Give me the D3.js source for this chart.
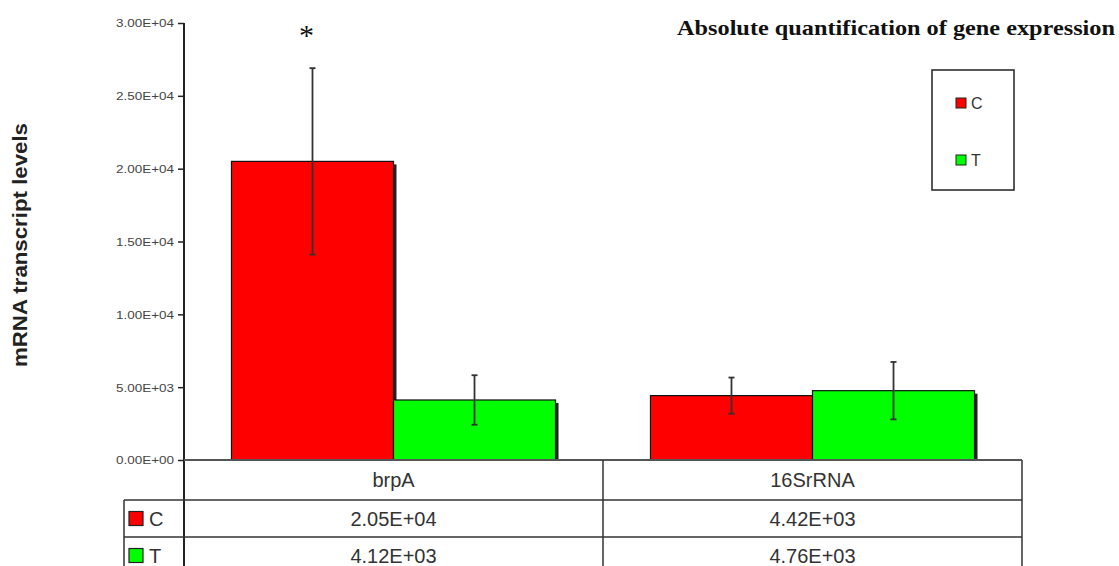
<!DOCTYPE html>
<html>
<head>
<meta charset="utf-8">
<script src="https://cdn.jsdelivr.net/npm/d3@7"></script>
<style>
  html, body { margin: 0; padding: 0; background: #fff; }
  svg { display: block; }
</style>
</head>
<body>
<svg id="chart" width="1119" height="566"></svg>
<script>
// Genes on the x axis
const categories = ["brpA", "16SrRNA"];
// Treatment groups
const seriesNames = ["C", "T"];
const seriesColors = ["#ff0000", "#00ff00"];
// Mean transcript levels, one array per group (same order as categories)
const valuesC = [20500, 4420];
const valuesT = [4120, 4760];
// Error bar half-widths
const errorsC = [6400, 1240];
const errorsT = [1700, 1970];
// Significance markers per category, for group C
const markersC = ["*", ""];
// Y axis ticks
const yTicks = [0, 5000, 10000, 15000, 20000, 25000, 30000];

const seriesValues = [valuesC, valuesT];
const seriesErrors = [errorsC, errorsT];

function fmtE(v) {
  if (v === 0) return "0.00E+00";
  const e = Math.floor(Math.log10(v));
  const m = v / Math.pow(10, e);
  return m.toFixed(2) + "E" + (e < 0 ? "-" : "+") + String(Math.abs(e)).padStart(2, "0");
}

const svg = d3.select("#chart");
const sans = "'Liberation Sans', Arial, sans-serif";
const serif = "'Liberation Serif', 'Times New Roman', serif";

const plotLeft = 184, plotRight = 1022, plotTop = 23, plotBottom = 460;
const y = d3.scaleLinear().domain([0, 30000]).range([plotBottom, plotTop]);
const x0 = d3.scaleBand().domain(categories).range([plotLeft, plotRight]).paddingInner(0).paddingOuter(0);
const x1 = d3.scaleBand().domain(seriesNames).range([0, x0.bandwidth()]).paddingInner(0).paddingOuter(0.293);

// Bars with a soft drop shadow
const rows = [];
categories.forEach((c, ci) => {
  seriesNames.forEach((s, si) => {
    rows.push({ cat: c, ser: s, si, v: seriesValues[si][ci], err: seriesErrors[si][ci] });
  });
});

const barG = svg.append("g");
barG.selectAll("rect.shadow").data(rows).join("rect")
  .attr("class", "shadow")
  .attr("x", d => x0(d.cat) + x1(d.ser) + 3)
  .attr("y", d => y(d.v) + 3)
  .attr("width", x1.bandwidth())
  .attr("height", d => plotBottom - y(d.v) - 3)
  .attr("fill", "#222");
barG.selectAll("rect.bar").data(rows).join("rect")
  .attr("class", "bar")
  .attr("x", d => x0(d.cat) + x1(d.ser))
  .attr("y", d => y(d.v))
  .attr("width", x1.bandwidth())
  .attr("height", d => plotBottom - y(d.v))
  .attr("fill", d => seriesColors[d.si])
  .attr("stroke", "#111")
  .attr("stroke-width", 1.2);

// Error bars
const errG = svg.append("g").attr("stroke", "#333").attr("stroke-width", 1.8);
rows.forEach(d => {
  const cx = x0(d.cat) + x1(d.ser) + x1.bandwidth() / 2;
  errG.append("line").attr("x1", cx).attr("x2", cx).attr("y1", y(d.v + d.err)).attr("y2", y(d.v - d.err));
  errG.append("line").attr("x1", cx - 3).attr("x2", cx + 3).attr("y1", y(d.v + d.err)).attr("y2", y(d.v + d.err));
  errG.append("line").attr("x1", cx - 3).attr("x2", cx + 3).attr("y1", y(d.v - d.err)).attr("y2", y(d.v - d.err));
});

// Significance marker
categories.forEach((c, ci) => {
  if (!markersC[ci]) return;
  const cx = x0(c) + x1("C") + x1.bandwidth() / 2 - 6;
  svg.append("text").attr("x", cx).attr("y", 45)
    .attr("text-anchor", "middle").attr("font-family", serif)
    .attr("font-size", 30).attr("fill", "#111").text(markersC[ci]);
});

// Y axis
const yAxis = d3.axisLeft(y).tickValues(yTicks).tickFormat(fmtE).tickSize(6).tickSizeOuter(0);
const ax = svg.append("g").attr("transform", `translate(${plotLeft},0)`).call(yAxis);
ax.select(".domain").remove();
ax.selectAll(".tick line").attr("stroke", "#222").attr("stroke-width", 1.5);
ax.selectAll(".tick text")
  .attr("font-family", sans).attr("font-size", 11).attr("fill", "#444")
  .attr("x", -10).attr("dy", "0.35em")
  .attr("textLength", 58).attr("lengthAdjust", "spacingAndGlyphs");
svg.append("line").attr("x1", plotLeft).attr("x2", plotLeft)
  .attr("y1", plotTop).attr("y2", 580).attr("stroke", "#222").attr("stroke-width", 2);

// Y axis title
svg.append("text")
  .attr("transform", `translate(27,245) rotate(-90)`)
  .attr("text-anchor", "middle")
  .attr("font-family", sans).attr("font-weight", "bold").attr("font-size", 21)
  .attr("fill", "#222").attr("textLength", 244).attr("lengthAdjust", "spacingAndGlyphs")
  .text("mRNA transcript levels");

// Chart title
svg.append("text").attr("x", 677).attr("y", 35)
  .attr("font-family", serif).attr("font-weight", "bold").attr("font-size", 21)
  .attr("fill", "#111").attr("textLength", 438).attr("lengthAdjust", "spacingAndGlyphs")
  .text("Absolute quantification of gene expression");

// Legend box
const leg = svg.append("g");
leg.append("rect").attr("x", 932).attr("y", 70).attr("width", 82).attr("height", 120)
  .attr("fill", "#fff").attr("stroke", "#222").attr("stroke-width", 1.5);
seriesNames.forEach((s, i) => {
  const cy = 103 + i * 57;
  leg.append("rect").attr("x", 956).attr("y", cy - 5).attr("width", 10).attr("height", 10)
    .attr("fill", seriesColors[i]).attr("stroke", "#222").attr("stroke-width", 1);
  leg.append("text").attr("x", 971).attr("y", cy).attr("dy", "0.36em")
    .attr("font-family", sans).attr("font-size", 16).attr("fill", "#333").text(s);
});

// Data table under the axis
const tbl = svg.append("g").attr("stroke", "#333").attr("stroke-width", 1.5);
const rowTops = [460, 500, 537, 574];
tbl.append("line").attr("x1", plotLeft).attr("x2", plotRight).attr("y1", 460).attr("y2", 460).attr("stroke", "#555").attr("stroke-width", 2);
tbl.append("line").attr("x1", 124).attr("x2", plotRight).attr("y1", 500).attr("y2", 500);
tbl.append("line").attr("x1", 124).attr("x2", plotRight).attr("y1", 537).attr("y2", 537);
tbl.append("line").attr("x1", 124).attr("x2", 124).attr("y1", 500).attr("y2", 580);
categories.forEach(c => {
  tbl.append("line").attr("x1", x0(c) + x0.bandwidth()).attr("x2", x0(c) + x0.bandwidth())
    .attr("y1", 460).attr("y2", 580);
});

const tText = svg.append("g").attr("font-family", sans).attr("font-size", 20).attr("fill", "#333").attr("text-anchor", "middle");
categories.forEach((c, ci) => {
  const cx = x0(c) + x0.bandwidth() / 2;
  tText.append("text").attr("x", cx).attr("y", (rowTops[0] + rowTops[1]) / 2).attr("dy", "0.36em").text(c);
  seriesNames.forEach((s, si) => {
    tText.append("text").attr("x", cx).attr("y", (rowTops[si + 1] + rowTops[si + 2]) / 2).attr("dy", "0.36em")
      .text(fmtE(seriesValues[si][ci]));
  });
});
seriesNames.forEach((s, si) => {
  const cy = (rowTops[si + 1] + rowTops[si + 2]) / 2;
  svg.append("rect").attr("x", 129).attr("y", cy - 7).attr("width", 14).attr("height", 14)
    .attr("fill", seriesColors[si]).attr("stroke", "#222").attr("stroke-width", 1.2);
  svg.append("text").attr("x", 149).attr("y", cy).attr("dy", "0.36em")
    .attr("font-family", sans).attr("font-size", 20).attr("fill", "#333").text(s);
});
</script>
</body>
</html>
